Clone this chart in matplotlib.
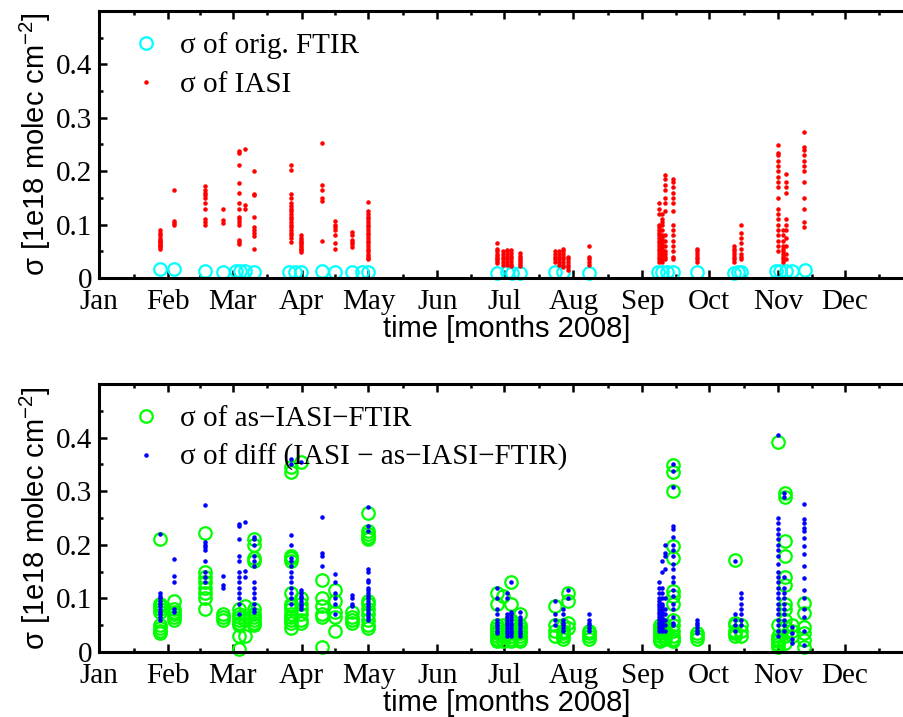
"""
Sigma of FTIR / IASI total columns over 2008, two panels
"""

import numpy as np
import matplotlib.pyplot as plt

month_labels = ['Jan', 'Feb', 'Mar', 'Apr', 'May', 'Jun',
                'Jul', 'Aug', 'Sep', 'Oct', 'Nov', 'Dec']
month_starts = [0, 31, 60, 91, 121, 152, 182, 213, 244, 274, 305, 335]
year_end = 366

# --- top panel: sigma of IASI (red dots), one list of values per day
iasi_days = [27.4, 33.7, 47.6, 55.7, 62.9, 65.6, 69.6, 86.2, 90.7, 100.1, 106.0,
             113.6, 120.8, 178.7, 181.5, 183.2, 185.0, 189.0, 204.8, 206.5, 208.4,
             210.6, 220.0, 251.4, 252.8, 254.1, 257.7, 268.5, 285.0, 288.3, 304.9,
             307.0, 308.5, 316.6]
iasi_vals = [
    [0.055, 0.058, 0.06, 0.062, 0.065, 0.068, 0.07, 0.072, 0.075, 0.08, 0.085, 0.09],
    [0.1, 0.103, 0.107, 0.165],
    [0.1, 0.105, 0.11, 0.13, 0.14, 0.15, 0.155, 0.16, 0.165, 0.172],
    [0.103, 0.108, 0.13],
    [0.063, 0.068, 0.072, 0.1, 0.105, 0.11, 0.115, 0.13, 0.14, 0.16, 0.178, 0.212, 0.235, 0.238],
    [0.13, 0.137, 0.242],
    [0.055, 0.078, 0.085, 0.09, 0.095, 0.115, 0.155, 0.158, 0.2],
    [0.068, 0.075, 0.08, 0.085, 0.09, 0.095, 0.1, 0.105, 0.11, 0.115, 0.12, 0.125, 0.13,
     0.135, 0.14, 0.15, 0.158, 0.203, 0.212],
    [0.048, 0.052, 0.055, 0.058, 0.062, 0.065, 0.068, 0.072, 0.075, 0.08],
    [0.07, 0.145, 0.15, 0.165, 0.175, 0.252],
    [0.055, 0.065, 0.08, 0.09, 0.095, 0.1, 0.106],
    [0.058, 0.063, 0.068, 0.072, 0.08, 0.087],
    [0.035, 0.038, 0.042, 0.045, 0.05, 0.055, 0.06, 0.065, 0.07, 0.075, 0.08, 0.085, 0.09,
     0.095, 0.1, 0.105, 0.11, 0.115, 0.12, 0.125, 0.143],
    [0.028, 0.032, 0.035, 0.038, 0.042, 0.045, 0.05, 0.055, 0.066],
    [0.025, 0.03, 0.035, 0.04, 0.045, 0.05],
    [0.025, 0.03, 0.035, 0.04, 0.045, 0.05, 0.053],
    [0.022, 0.027, 0.032, 0.037, 0.042, 0.047, 0.052],
    [0.022, 0.026, 0.03, 0.034, 0.038, 0.042, 0.046],
    [0.03, 0.035, 0.04, 0.045, 0.05],
    [0.025, 0.03, 0.035, 0.04, 0.045, 0.05],
    [0.02, 0.025, 0.03, 0.035, 0.04, 0.045, 0.05, 0.055],
    [0.015, 0.02, 0.025, 0.03, 0.035, 0.04],
    [0.025, 0.03, 0.035, 0.04, 0.06],
    [0.03, 0.035, 0.04, 0.045, 0.05, 0.055, 0.06, 0.065, 0.07, 0.075, 0.08, 0.085, 0.09,
     0.095, 0.1, 0.12, 0.13, 0.14],
    [0.03, 0.035, 0.04, 0.045, 0.05, 0.055, 0.06, 0.065, 0.07, 0.075, 0.08, 0.09, 0.1,
     0.105, 0.11, 0.12],
    [0.035, 0.04, 0.045, 0.05, 0.06, 0.07, 0.08, 0.125, 0.14, 0.15, 0.165, 0.175, 0.185, 0.193],
    [0.035, 0.04, 0.05, 0.06, 0.07, 0.08, 0.09, 0.1, 0.125, 0.14, 0.15, 0.16, 0.17, 0.18, 0.185],
    [0.03, 0.035, 0.04, 0.045, 0.05, 0.055],
    [0.03, 0.035, 0.04, 0.045, 0.05, 0.055, 0.06],
    [0.035, 0.04, 0.045, 0.055, 0.065, 0.075, 0.085, 0.1],
    [0.05, 0.06, 0.07, 0.08, 0.09, 0.1, 0.11, 0.12, 0.13, 0.15, 0.17, 0.18, 0.19, 0.2,
     0.21, 0.22, 0.23, 0.235, 0.25],
    [0.03, 0.035, 0.04, 0.045, 0.05, 0.055, 0.06, 0.07, 0.08, 0.09],
    [0.035, 0.045, 0.06, 0.075, 0.09, 0.1, 0.11, 0.16, 0.17, 0.18, 0.195],
    [0.095, 0.105, 0.13, 0.15, 0.18, 0.2, 0.21, 0.22, 0.23, 0.24, 0.245, 0.273],
]

# sigma of original FTIR (cyan circles)
ftir_days = [27.4, 33.7, 47.6, 55.7, 61.5, 63.5, 65.6, 69.6, 85.5, 88.0, 90.7, 100.1,
             106.0, 113.6, 118.0, 120.8, 178.7, 183.0, 185.5, 189.0, 204.8, 208.4, 220.0,
             251.0, 253.0, 255.0, 257.7, 268.5, 285.0, 287.0, 288.3, 304.0, 306.0,
             308.5, 311.0, 317.0]
ftir_vals = [0.017, 0.017, 0.014, 0.012, 0.013, 0.013, 0.013, 0.012, 0.012, 0.012, 0.012,
             0.013, 0.012, 0.011, 0.011, 0.012, 0.01, 0.011, 0.01, 0.009, 0.011, 0.011,
             0.01, 0.011, 0.011, 0.011, 0.011, 0.012, 0.009, 0.011, 0.012, 0.013, 0.013,
             0.013, 0.013, 0.015]

# --- bottom panel: sigma of as-IASI-FTIR (green circles)
asftir_days = [27.4, 33.7, 47.6, 55.7, 62.9, 65.6, 69.6, 86.2, 90.7, 100.1, 106.0, 113.6,
               120.8, 178.7, 181.5, 185.0, 189.0, 204.8, 208.4, 210.6, 220.0, 251.9, 254.1,
               257.7, 268.5, 285.6, 288.3, 304.9, 308.0, 311.0, 316.6]
asftir_vals = [
    [0.035, 0.04, 0.045, 0.05, 0.075, 0.08, 0.085, 0.09, 0.21],
    [0.06, 0.065, 0.07, 0.075, 0.08, 0.095],
    [0.08, 0.1, 0.11, 0.12, 0.13, 0.14, 0.15, 0.222],
    [0.06, 0.065, 0.07],
    [0.005, 0.03, 0.05, 0.055, 0.06, 0.065, 0.07, 0.08],
    [0.03, 0.06, 0.085],
    [0.05, 0.055, 0.06, 0.065, 0.07, 0.08, 0.17, 0.175, 0.2, 0.21],
    [0.045, 0.055, 0.06, 0.065, 0.07, 0.08, 0.085, 0.09, 0.11, 0.17, 0.175, 0.18, 0.335, 0.345],
    [0.055, 0.06, 0.07, 0.08, 0.09, 0.1, 0.355],
    [0.01, 0.065, 0.07, 0.085, 0.1, 0.135],
    [0.04, 0.065, 0.075, 0.095, 0.115],
    [0.055, 0.06, 0.065, 0.075],
    [0.045, 0.05, 0.06, 0.07, 0.08, 0.09, 0.095, 0.21, 0.215, 0.22, 0.225, 0.26],
    [0.02, 0.025, 0.03, 0.035, 0.04, 0.045, 0.05, 0.09, 0.11],
    [0.02, 0.03, 0.04, 0.05, 0.105],
    [0.02, 0.025, 0.03, 0.035, 0.04, 0.05, 0.06, 0.09, 0.13],
    [0.02, 0.025, 0.03, 0.035, 0.04, 0.045, 0.05, 0.07],
    [0.03, 0.04, 0.05, 0.085],
    [0.025, 0.03, 0.035, 0.04, 0.05],
    [0.045, 0.055, 0.095, 0.11],
    [0.025, 0.03, 0.035, 0.04],
    [0.02, 0.025, 0.03, 0.035, 0.04, 0.045, 0.05],
    [0.025, 0.03, 0.035, 0.04, 0.045, 0.05],
    [0.02, 0.025, 0.03, 0.04, 0.05, 0.06, 0.09, 0.104, 0.113, 0.176, 0.198, 0.3, 0.336, 0.348],
    [0.025, 0.03, 0.035],
    [0.03, 0.035, 0.04, 0.05, 0.055, 0.172],
    [0.03, 0.04, 0.05],
    [0.01, 0.015, 0.02, 0.025, 0.03, 0.05, 0.392],
    [0.016, 0.03, 0.047, 0.06, 0.08, 0.09, 0.125, 0.14, 0.18, 0.207, 0.29, 0.297],
    [0.03, 0.04, 0.05],
    [0.01, 0.022, 0.035, 0.047, 0.072, 0.092],
]

# sigma of diff IASI - as-IASI-FTIR (blue dots)
diff_days = [27.4, 33.7, 47.6, 55.7, 62.9, 65.6, 69.6, 86.2, 90.7, 100.1, 106.0, 113.6,
             120.8, 178.7, 183.2, 185.0, 189.0, 204.8, 208.4, 210.6, 220.0, 251.4, 252.8,
             254.1, 257.7, 268.5, 285.6, 288.3, 304.9, 307.5, 311.0, 316.6]
diff_vals = [
    [0.06, 0.065, 0.07, 0.075, 0.08, 0.085, 0.09, 0.095, 0.1, 0.105, 0.11, 0.22],
    [0.075, 0.08, 0.13, 0.142, 0.173],
    [0.13, 0.14, 0.15, 0.17, 0.19, 0.195, 0.2, 0.205, 0.275],
    [0.12, 0.125, 0.142],
    [0.07, 0.09, 0.1, 0.11, 0.12, 0.13, 0.14, 0.15, 0.17, 0.18, 0.21, 0.235, 0.238],
    [0.14, 0.152, 0.243],
    [0.075, 0.08, 0.09, 0.1, 0.11, 0.12, 0.13, 0.16, 0.17, 0.18, 0.2, 0.21, 0.215],
    [0.09, 0.1, 0.11, 0.12, 0.13, 0.14, 0.15, 0.16, 0.17, 0.175, 0.2, 0.218, 0.35, 0.36],
    [0.08, 0.085, 0.09, 0.095, 0.1, 0.105, 0.11, 0.115, 0.355],
    [0.16, 0.18, 0.185, 0.252],
    [0.07, 0.09, 0.1, 0.11, 0.13, 0.145],
    [0.085, 0.09, 0.1, 0.107],
    [0.06, 0.065, 0.07, 0.075, 0.08, 0.085, 0.09, 0.095, 0.1, 0.105, 0.11, 0.115, 0.12,
     0.13, 0.135, 0.15, 0.155, 0.225, 0.235, 0.27],
    [0.035, 0.04, 0.045, 0.05, 0.055, 0.06, 0.07, 0.08, 0.1, 0.12],
    [0.03, 0.035, 0.04, 0.045, 0.05, 0.055, 0.06, 0.065, 0.07, 0.1, 0.11],
    [0.03, 0.035, 0.04, 0.045, 0.05, 0.055, 0.06, 0.065, 0.07, 0.075, 0.13],
    [0.03, 0.035, 0.04, 0.045, 0.05, 0.055, 0.06, 0.065, 0.075],
    [0.05, 0.06, 0.07, 0.095],
    [0.04, 0.045, 0.05, 0.055, 0.06, 0.07, 0.08],
    [0.1, 0.115],
    [0.04, 0.045, 0.05, 0.055, 0.06, 0.07],
    [0.04, 0.045, 0.05, 0.055, 0.06, 0.065, 0.07, 0.075, 0.08, 0.085, 0.09, 0.095, 0.1,
     0.11, 0.12, 0.13],
    [0.04, 0.045, 0.05, 0.055, 0.06, 0.065, 0.07, 0.075, 0.08, 0.085, 0.09, 0.1, 0.11,
     0.12, 0.15, 0.17],
    [0.04, 0.05, 0.06, 0.07, 0.08, 0.1, 0.155, 0.18, 0.185, 0.2],
    [0.05, 0.055, 0.065, 0.08, 0.09, 0.105, 0.115, 0.13, 0.14, 0.155, 0.165, 0.18, 0.19,
     0.2, 0.215, 0.23, 0.235, 0.307, 0.338, 0.35],
    [0.035, 0.04, 0.045, 0.05, 0.055, 0.06],
    [0.04, 0.05, 0.06, 0.07, 0.17],
    [0.05, 0.06, 0.07, 0.08, 0.09, 0.1, 0.11],
    [0.03, 0.04, 0.05, 0.06, 0.07, 0.08, 0.09, 0.1, 0.11, 0.12, 0.13, 0.14, 0.15, 0.165,
     0.18, 0.19, 0.2, 0.21, 0.22, 0.23, 0.24, 0.25, 0.404],
    [0.04, 0.05, 0.06, 0.07, 0.08, 0.09, 0.1, 0.11, 0.12, 0.14, 0.29, 0.297],
    [0.016, 0.025, 0.035, 0.047],
    [0.013, 0.04, 0.066, 0.08, 0.1, 0.116, 0.138, 0.16, 0.182, 0.198, 0.213, 0.225,
     0.232, 0.24, 0.248, 0.277],
]

SERIF = 'Liberation Serif'
SANS = 'Liberation Sans'
FS = 21


def expand(days, vals):
    x = np.concatenate([np.full(len(v), d) for d, v in zip(days, vals)])
    y = np.concatenate([np.asarray(v, dtype=float) for v in vals])
    return x, y


def style_axes(ax):
    ax.set_xlim(0, year_end)
    ax.set_ylim(0, 0.5)
    ax.set_xticks(month_starts)
    ax.set_xticklabels(month_labels, fontfamily=SERIF, fontsize=FS)
    bounds = month_starts + [year_end]
    ax.set_xticks([(a + b) / 2 for a, b in zip(bounds[:-1], bounds[1:])], minor=True)
    ax.set_yticks([0, 0.1, 0.2, 0.3, 0.4])
    ax.set_yticklabels(['0', '0.1', '0.2', '0.3', '0.4'], fontfamily=SERIF, fontsize=FS)
    ax.set_yticks(np.arange(0.05, 0.5, 0.1), minor=True)
    ax.tick_params(which='both', direction='in', top=True, right=True, width=1.8)
    ax.tick_params(which='major', length=6)
    ax.tick_params(axis='x', which='major', pad=8)
    ax.tick_params(axis='y', which='major', pad=5)
    ax.tick_params(which='minor', length=3)
    for sp in ax.spines.values():
        sp.set_linewidth(2.2)
    ax.set_xlabel('time [months 2008]', fontfamily=SANS, fontsize=FS, labelpad=0)
    ax.set_ylabel(r'σ [1e18 molec cm$^{-2}$]', fontfamily=SANS, fontsize=FS, labelpad=2)


def add_legend(ax):
    ax.legend(loc='upper left', frameon=False, prop={'family': SERIF, 'size': FS},
              handletextpad=0.55, handlelength=1.2, borderaxespad=0.2,
              labelspacing=0.42, bbox_to_anchor=(0.015, 0.985))


fig = plt.figure(figsize=(9.04, 7.17), dpi=100)
plt.rcParams['mathtext.fontset'] = 'custom'
plt.rcParams['mathtext.rm'] = SANS
plt.rcParams['mathtext.it'] = SANS

W, H = 904.0, 717.0
left, right = 99 / W, 914 / W
ax1 = fig.add_axes([left, 1 - 278 / H, right - left, 267 / H])
ax2 = fig.add_axes([left, 1 - 652 / H, right - left, 268 / H])

# top panel
ax1.plot(ftir_days, ftir_vals, 'o', ls='none', mfc='none', mec='cyan',
         ms=9, mew=1.6, label='σ of orig. FTIR', clip_on=False)
x, y = expand(iasi_days, iasi_vals)
ax1.plot(x, y, '.', ls='none', color='red', ms=4.5, label='σ of IASI')
style_axes(ax1)
add_legend(ax1)

# bottom panel
x, y = expand(asftir_days, asftir_vals)
ax2.plot(x, y, 'o', ls='none', mfc='none', mec=(0, 1, 0), ms=9, mew=1.6,
         label='σ of as\u2212IASI\u2212FTIR', clip_on=False)
x, y = expand(diff_days, diff_vals)
ax2.plot(x, y, '.', ls='none', color='blue', ms=4.5,
         label='σ of diff (IASI \u2212 as\u2212IASI\u2212FTIR)')
style_axes(ax2)
add_legend(ax2)

fig.savefig('out.png', dpi=100)
